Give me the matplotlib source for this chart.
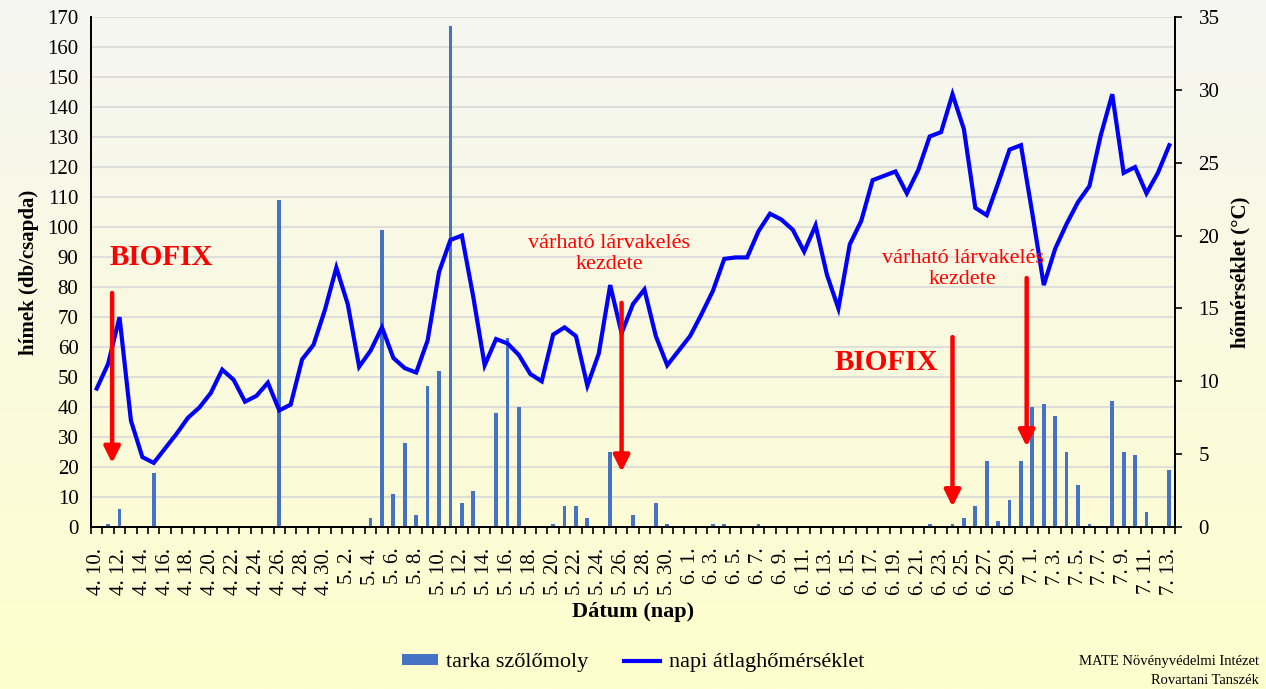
import matplotlib
matplotlib.use("Agg")
import matplotlib.pyplot as plt
import numpy as np
from matplotlib.patches import Patch
from matplotlib.lines import Line2D

# ---- data ----
month_days = [("4", range(10, 31)), ("5", range(1, 32)), ("6", range(1, 31)), ("7", range(1, 14))]
dates = [f"{m}. {d}." for m, rng in month_days for d in rng]

moth = [0, 1, 6, 0, 0, 18, 0, 0, 0, 0, 0, 0, 0, 0, 0, 0, 109, 0, 0, 0,
        0, 0, 0, 0, 3, 99, 11, 28, 4, 47, 52, 167, 8, 12, 0, 38, 63, 40, 0, 0,
        1, 7, 7, 3, 0, 25, 0, 4, 0, 8, 1, 0, 0, 0, 1, 1, 0, 0, 1, 0,
        0, 0, 0, 0, 0, 0, 0, 0, 0, 0, 0, 0, 0, 1, 0, 1, 3, 7, 22, 2,
        9, 22, 40, 41, 37, 25, 14, 1, 0, 42, 25, 24, 5, 0, 19]

temp = [9.5, 11.2, 14.4, 7.3, 4.8, 4.4, 5.4, 6.4, 7.5, 8.2, 9.2, 10.8, 10.1, 8.6, 9.0, 9.9, 8.0, 8.4, 11.5, 12.5,
        14.9, 17.8, 15.3, 11.0, 12.1, 13.7, 11.6, 10.9, 10.6, 12.8, 17.5, 19.7, 20.0, 15.8, 11.1, 12.9, 12.6, 11.8, 10.5, 10.0,
        13.2, 13.7, 13.1, 9.7, 11.9, 16.6, 13.3, 15.3, 16.3, 13.1, 11.1, 12.1, 13.1, 14.6, 16.2, 18.4, 18.5, 18.5, 20.3, 21.5,
        21.1, 20.4, 18.9, 20.7, 17.3, 15.0, 19.4, 21.0, 23.8, 24.1, 24.4, 22.9, 24.5, 26.8, 27.1, 29.7, 27.3, 21.9, 21.4, 23.6,
        25.9, 26.2, 21.5, 16.6, 19.1, 20.8, 22.3, 23.4, 26.9, 29.7, 24.3, 24.7, 22.9, 24.3, 26.2]

left_ticks = list(range(0, 171, 10))
right_ticks = list(range(0, 36, 5))

SERIF = ["Liberation Serif", "DejaVu Serif"]
plt.rcParams["font.family"] = SERIF

fig = plt.figure(figsize=(12.66, 6.89), dpi=100)

# background gradient
bg = fig.add_axes([0, 0, 1, 1], zorder=-10)
top_c = np.array([245, 246, 242]) / 255
bot_c = np.array([255, 254, 205]) / 255
t = np.linspace(0, 1, 256)[:, None]
grad = (top_c[None, :] * (1 - t) + bot_c[None, :] * t)[:, None, :]
bg.imshow(grad, aspect="auto", extent=[0, 1, 0, 1])
bg.axis("off")

L, R, B, T = 91 / 1266, 1175 / 1266, 1 - 527 / 689, 1 - 17 / 689
ax = fig.add_axes([L, B, R - L, T - B])
ax.set_facecolor("none")
ax2 = ax.twinx()
ax2.set_facecolor("none")

n = len(dates)
x = np.arange(n)
ax.bar(x, moth, width=0.33, color="#4472C4", zorder=3)
ax2.plot(x, temp, color="#0000FF", lw=3.0, solid_joinstyle="miter", zorder=4)

ax.set_xlim(-0.5, n - 0.5)
ax.set_ylim(0, 170)
ax2.set_ylim(0, 35)
ax.set_yticks(left_ticks)
ax2.set_yticks(right_ticks)
ax.yaxis.grid(True, color="#D9D9D9", lw=1.2, zorder=0)
ax.set_axisbelow(True)

ax.set_xticks(x[::2])
ax.set_xticklabels(dates[::2], rotation=90, fontsize=15, va="top", ha="center")
ax.set_xticks(np.arange(-0.5, n, 1), minor=True)
ax.tick_params(axis="x", which="major", length=0, pad=15)
ax.tick_params(axis="x", which="minor", length=5, width=1.2, direction="out", color="black")
ax.tick_params(axis="y", length=0, labelsize=15, pad=9)
ax2.tick_params(axis="y", length=5, width=1.2, direction="out", labelsize=15, pad=12)

for a in (ax, ax2):
    a.spines["top"].set_visible(False)
    for s in ("left", "right", "bottom"):
        a.spines[s].set_color("black")
        a.spines[s].set_linewidth(1.3)

ax.set_xlabel("Dátum (nap)", fontsize=16, fontweight="bold", labelpad=5)
ax.set_ylabel("hímek (db/csapda)", fontsize=15, fontweight="bold", labelpad=6)
ax2.set_ylabel("hőmérséklet (°C)", fontsize=15, fontweight="bold", labelpad=8)

# annotations (drawn on top of the line)
arrows = [(1.35, 78, 21.3), (46.0, 74.7, 18.4), (75.0, 63.3, 6.8), (81.5, 83, 26.8)]
for xa, y0, y1 in arrows:
    ax2.annotate("", xy=(xa, y1), xytext=(xa, y0), xycoords=ax.transData, textcoords=ax.transData,
                 arrowprops=dict(arrowstyle="-|>", color="#FF0000", lw=3.2, mutation_scale=24,
                                 shrinkA=0, shrinkB=0), zorder=6)

ax2.text(1.1, 89.7, "BIOFIX", transform=ax.transData, color="#FF0000", fontsize=21,
         fontweight="bold", ha="left", va="center", zorder=6)
ax2.text(64.7, 55, "BIOFIX", transform=ax.transData, color="#FF0000", fontsize=21,
         fontweight="bold", ha="left", va="center", zorder=6)
ax2.text(44.9, 91, "várható lárvakelés\nkezdete", transform=ax.transData, color="#FF0000",
         fontsize=16, ha="center", va="center", linespacing=1.2, zorder=6)
ax2.text(75.9, 86, "várható lárvakelés\nkezdete", transform=ax.transData, color="#FF0000",
         fontsize=16, ha="center", va="center", linespacing=1.2, zorder=6)

handles = [Patch(facecolor="#4472C4", edgecolor="none"),
           Line2D([0], [0], color="#0000FF", lw=3)]
fig.legend(handles, ["tarka szőlőmoly", "napi átlaghőmérséklet"], loc="center",
           bbox_to_anchor=(633 / 1266, 1 - 663 / 689), ncol=2, frameon=False,
           fontsize=16, handlelength=1.6, handleheight=0.4, columnspacing=1.6, handletextpad=0.4)

fig.text(1259 / 1266, 1 - 662 / 689, "MATE Növényvédelmi Intézet", ha="right", va="center", fontsize=10.5)
fig.text(1259 / 1266, 1 - 680 / 689, "Rovartani Tanszék", ha="right", va="center", fontsize=10.5)

fig.savefig("out.png", dpi=100)
